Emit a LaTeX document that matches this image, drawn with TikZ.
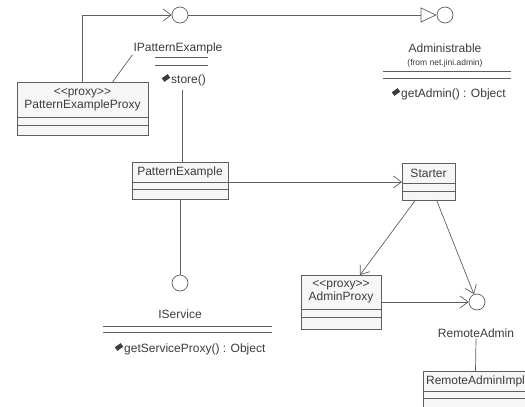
\documentclass[tikz,border=0pt]{standalone}
\usepackage{fontspec}
\setmainfont{Liberation Sans}
\usetikzlibrary{positioning,calc,arrows.meta}

\definecolor{linegray}{RGB}{95,95,95}
\definecolor{txtgray}{RGB}{60,60,60}
\definecolor{boxfill}{RGB}{246,246,246}

\tikzset{
  umlline/.style={draw=linegray, line width=0.7pt},
  dep/.style={umlline, -{Straight Barb[length=8pt,width=12pt]}},
  realize/.style={umlline, -{Triangle[open,length=16pt,width=15pt]}},
  classhead/.style={draw=linegray, line width=0.7pt, fill=boxfill, text=txtgray,
    align=center, inner sep=1pt, outer sep=0pt, minimum height=20pt},
  compart/.style={draw=linegray, line width=0.7pt, fill=boxfill,
    inner sep=0pt, outer sep=0pt, minimum height=8pt},
  iface/.style={circle, draw=linegray, line width=0.7pt, fill=white,
    minimum size=16pt, inner sep=0pt},
  lbl/.style={text=txtgray, inner sep=1pt},
  opname/.style={text=txtgray, inner sep=0pt, anchor=west},
  opicon/.pic={\fill[txtgray, rotate=35] (-3.6,-2.2) rectangle (3.6,2.2);}
}

\begin{document}
\begin{tikzpicture}[x=1pt, y=-1pt, font=\fontsize{12}{13}\selectfont]
    % Frame of the reference
    \clip (0,0) rectangle (525,407);
    \fill[white] (0,0) rectangle (525,407);

    % Define the interface circles
    \node[iface] (ipecirc) at (180,15) {};
    \node[iface] (admcirc) at (445,15) {};
    \node[iface] (isvccirc) at (180,283) {};
    \node[iface] (racirc) at (477,302) {};

    % Interface IPatternExample
    \node[lbl] (ipelbl) at (178,48) {IPatternExample};
    \draw[umlline] (155,57) -- (208,57) (155,65) -- (208,65);
    \node[opname] (ipeop) at (171,80) {store()};
    \pic at (166,78) {opicon};
    \coordinate (ipefoot) at (182,90);

    % Interface Administrable
    \node[lbl] (admlbl) at (445,48) {Administrable};
    \node[lbl, font=\fontsize{8.5}{10}\selectfont] (admfrom) at (445,63) {(from net.jini.admin)};
    \draw[umlline] (383,71) -- (511,71) (383,78) -- (511,78);
    \node[opname] (admop) at (401,94) {getAdmin() : Object};
    \pic at (396,92) {opicon};

    % Interface IService
    \node[lbl] (isvclbl) at (180,314) {IService};
    \draw[umlline] (103,326) -- (272,326) (103,332) -- (272,332);
    \node[opname] (isvcop) at (124,349) {getServiceProxy() : Object};
    \pic at (119,347) {opicon};

    % Interface RemoteAdmin
    \node[lbl] (ralbl) at (476,333) {RemoteAdmin};

    % Class PatternExampleProxy
    \node[classhead, minimum width=131pt, minimum height=35pt] (pxy) at (82.5,99.5)
        {<{}<proxy>{}>\\PatternExampleProxy};
    \node[compart, minimum width=131pt, below=0pt of pxy] (pxya) {};
    \node[compart, minimum width=131pt, minimum height=10pt, below=0pt of pxya] (pxyb) {};

    % Class PatternExample
    \node[classhead, minimum width=96pt] (pex) at (180,172) {PatternExample};
    \node[compart, minimum width=96pt, minimum height=7pt, below=0pt of pex] (pexa) {};
    \node[compart, minimum width=96pt, minimum height=10pt, below=0pt of pexa] (pexb) {};

    % Class Starter
    \node[classhead, minimum width=53pt] (starter) at (428.5,173) {Starter};
    \node[compart, minimum width=53pt, below=0pt of starter] (startera) {};
    \node[compart, minimum width=53pt, minimum height=9pt, below=0pt of startera] (starterb) {};

    % Class AdminProxy
    \node[classhead, minimum width=80pt, minimum height=34pt] (apx) at (341,292)
        {<{}<proxy>{}>\\AdminProxy};
    \node[compart, minimum width=80pt, below=0pt of apx] (apxa) {};
    \node[compart, minimum width=80pt, minimum height=12pt, below=0pt of apxa] (apxb) {};

    % Class RemoteAdminImpl (runs past the right edge)
    \node[classhead, minimum width=105pt] (rai) at (475.5,381) {RemoteAdminImpl};
    \node[compart, minimum width=105pt, minimum height=7pt, below=0pt of rai] (raia) {};
    \node[compart, minimum width=105pt, minimum height=12pt, below=0pt of raia] (raib) {};

    % Connectors
    \draw[dep] (pxy.north) |- (ipecirc);
    \draw[realize] (ipecirc) -- (admcirc);
    \draw[umlline] ($(pxy.north)+(30,0)$) -- (ipelbl.south west);
    \draw[umlline] (ipefoot) -- (ipefoot |- pex.north);
    \draw[dep] (pex.south east) -- (pex.south east -| starter.west);
    \draw[umlline] (pexb.south) -- (isvccirc);
    \draw[dep] ($(starterb.south)+(-13,0)$) -- ($(apx.north)+(19,0)$);
    \draw[dep] ($(starterb.south)+(8,0)$) -- (racirc);
    \draw[dep] (apx.east |- racirc) -- (racirc);
    \draw[umlline] (ralbl.south) -- (rai.north);

\end{tikzpicture}
\end{document}
